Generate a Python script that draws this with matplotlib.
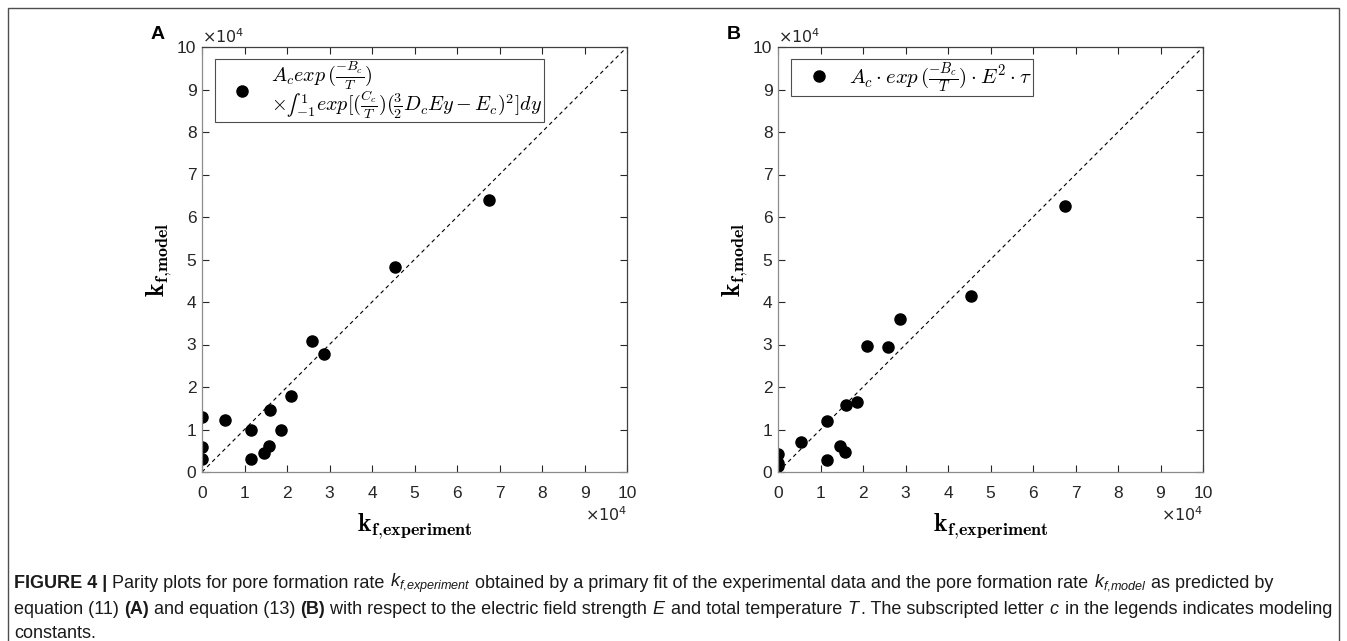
import matplotlib
matplotlib.use("Agg")
import matplotlib.pyplot as plt
from matplotlib import font_manager
from matplotlib.lines import Line2D

# values, in units of 1e4
k_exp = [0, 0, 0, 0.55, 1.15, 1.15, 1.45, 1.58, 1.61, 1.86, 2.09, 2.58, 2.86, 4.55, 6.75]
k_model_a = [1.29, 0.60, 0.31, 1.22, 1.00, 0.31, 0.45, 0.61, 1.47, 0.98, 1.78, 3.09, 2.78, 4.82, 6.40]
k_model_b = [0.43, 0.22, 0.14, 0.70, 1.19, 0.28, 0.61, 0.46, 1.57, 1.65, 2.96, 2.93, 3.59, 4.15, 6.25]
ticks = list(range(0, 11))
panel_names = ["A", "B"]
legend_a = (r"$A_c exp\,(\frac{-B_c}{T})$" + "\n"
            r"$\times ∫_{-1}^{\;1} exp[(\frac{C_c}{T})(\frac{3}{2}D_cEy-E_c)^2]dy$")
legend_b = r"$A_c\cdot exp\,(\frac{-B_c}{T})\cdot E^2\cdot\tau$"
legend_sizes = [14.5, 15]

names = {f.name for f in font_manager.fontManager.ttflist}
cap_font = "Liberation Sans Narrow" if "Liberation Sans Narrow" in names else "Liberation Sans"

plt.rcParams["font.family"] = ["Liberation Sans", "DejaVu Sans"]
plt.rcParams["mathtext.fontset"] = "cm"

W, H = 1347, 641
fig = plt.figure(figsize=(W / 100, H / 100), dpi=100)

# outer frame
fig.add_artist(plt.Rectangle((8 / W, -0.1), (1339 - 8) / W, 1.1 - 8 / H, transform=fig.transFigure,
                             fill=False, edgecolor="#4d4d4d", linewidth=1.0))

tick_col = "#262626"
lefts = [202, 778]
data = [k_model_a, k_model_b]
labels = [legend_a, legend_b]

for i in range(2):
    ax = fig.add_axes([lefts[i] / W, 1 - 472 / H, 425 / W, 425 / H])
    ax.plot([0, 10], [0, 10], color="black", linestyle=(0, (3.5, 3)), linewidth=0.8)
    ax.plot(k_exp, data[i], "o", color="black", markersize=8, linestyle="none")
    ax.set_xlim(0, 10)
    ax.set_ylim(0, 10)
    ax.set_xticks(ticks)
    ax.set_yticks(ticks)
    ax.tick_params(direction="in", length=5, width=0.8, top=True, right=True,
                   labelsize=12.5, colors=tick_col)
    ax.tick_params(axis="x", pad=10)
    ax.tick_params(axis="y", pad=4)
    for side in ["left", "bottom"]:
        ax.spines[side].set_color("#8c8c8c")
    for side in ["top", "right"]:
        ax.spines[side].set_color("#404040")
    for sp in ax.spines.values():
        sp.set_linewidth(0.9)
    ax.set_xlabel(r"$\mathbf{k_{f{,}experiment}}$", fontsize=18.5)
    ax.set_ylabel(r"$\mathbf{k_{f{,}model}}$", fontsize=18.5)
    ax.xaxis.set_label_coords(0.5, -0.129)
    ax.xaxis.label.set_verticalalignment("center")
    ax.yaxis.set_label_coords(-0.1, 0.5)
    ax.yaxis.label.set_verticalalignment("center")
    ax.text(0.0, 1.003, r"$\times10^4$", transform=ax.transAxes, fontsize=11.5,
            color=tick_col, math_fontfamily="dejavusans", va="bottom", ha="left")
    ax.text(1.0, -0.101, r"$\times10^4$", transform=ax.transAxes, fontsize=11.5,
            color=tick_col, math_fontfamily="dejavusans", va="center", ha="right")
    ax.text(-0.105, 1.03, panel_names[i], transform=ax.transAxes, fontsize=14,
            fontweight="bold", va="center", ha="center")
    h = Line2D([], [], marker="o", color="black", markersize=8, linestyle="none")
    leg = ax.legend([h], [labels[i]], loc="upper left", bbox_to_anchor=(0.0306, 0.972),
                    fontsize=legend_sizes[i], frameon=True, fancybox=False, framealpha=1,
                    edgecolor="#4d4d4d", borderpad=0.05, handletextpad=0.15,
                    handlelength=2.6, borderaxespad=0)
    leg.get_frame().set_linewidth(0.8)
    for t in leg.get_texts():
        t.set_linespacing(0.8)

# caption
plt.rcParams["mathtext.fontset"] = "custom"
plt.rcParams["mathtext.rm"] = cap_font
plt.rcParams["mathtext.it"] = cap_font + ":italic"

cap_lines = [
    [("FIGURE 4 | ", "bold"),
     ("Parity plots for pore formation rate ", "normal"),
     (r"$k_{f{,}experiment}$", "normal"),
     (" obtained by a primary fit of the experimental data and the pore formation rate ", "normal"),
     (r"$k_{f{,}model}$", "normal"),
     (" as predicted by", "normal")],
    [("equation (11) ", "normal"), ("(A)", "bold"), (" and equation (13) ", "normal"),
     ("(B)", "bold"),
     (" with respect to the electric field strength ", "normal"), (r"$E$", "normal"),
     (" and total temperature ", "normal"), (r"$T$", "normal"),
     (". The subscripted letter ", "normal"), (r"$c$", "normal"),
     (" in the legends indicates modeling", "normal")],
    [("constants.", "normal")],
]
cap_y = [583, 609, 634]

renderer = fig.canvas.get_renderer()


def draw_line(parts, y, size):
    x = 14
    made = []
    for txt, wt in parts:
        t = fig.text(x / W, 1 - y / H, txt, fontsize=size, fontweight=wt, family=[cap_font, "DejaVu Sans"],
                     math_fontfamily="custom", va="center", ha="left", color="#1a1a1a")
        bb = t.get_window_extent(renderer)
        x = bb.x1
        made.append(t)
    return x, made


# fit the second line to the width seen in the picture
end, tmp = draw_line(cap_lines[1], cap_y[1], 10)
for t in tmp:
    t.remove()
size = 10 * (1336 - 14) / (end - 14)
for parts, y in zip(cap_lines, cap_y):
    draw_line(parts, y, size)

fig.savefig("out.png", dpi=100)
